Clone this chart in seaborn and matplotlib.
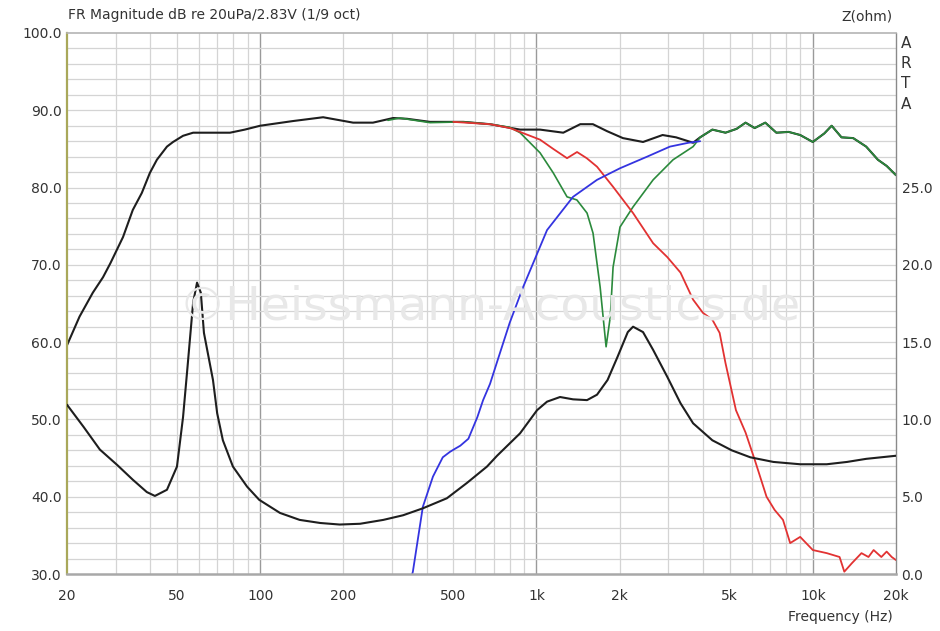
import numpy as np
import pandas as pd
import matplotlib.pyplot as plt
import seaborn as sns

sns.set_style("white")
plt.rcParams['font.family'] = ['DejaVu Sans']

# Summed response (black)
sum_freq = [20, 22.2, 24.8, 27, 28.7, 31.9, 34.6, 37.3, 39.9, 42.3, 46, 48.4, 52.6, 57.2, 77.8,
            88, 100, 131, 169, 217, 256, 303, 340, 412, 544, 679, 872, 1030, 1250, 1440, 1600,
            1800, 2055, 2430, 2860, 3200, 3688, 3910, 4330, 4830, 5300, 5710, 6160, 6730, 7380,
            8180, 9000, 10000, 11000, 11700, 12700, 14000, 15600, 17200, 18500, 20000]
sum_db = [59.6, 63.3, 66.4, 68.4, 70.2, 73.6, 77.1, 79.3, 81.9, 83.6, 85.3, 85.9, 86.7, 87.1,
          87.1, 87.5, 88.0, 88.6, 89.1, 88.4, 88.4, 89.0, 88.9, 88.5, 88.5, 88.2, 87.5, 87.5,
          87.1, 88.2, 88.2, 87.3, 86.4, 85.9, 86.8, 86.5, 85.8, 86.5, 87.5, 87.1, 87.6, 88.4,
          87.7, 88.4, 87.1, 87.2, 86.8, 85.9, 87.0, 88.0, 86.5, 86.4, 85.3, 83.6, 82.8, 81.6]

# Inverted-polarity sum (green), joins the black curve above ~3.9 kHz
inv_freq = [290, 320, 412, 544, 679, 800, 872, 1030, 1150, 1290, 1400, 1524, 1602, 1700,
            1786, 1850, 1893, 2006, 2236, 2643, 3121, 3688]
inv_db = [88.7, 89.0, 88.4, 88.5, 88.2, 87.8, 87.1, 84.5, 81.9, 78.8, 78.4, 76.7, 74.1, 67.1,
          59.4, 63.3, 69.7, 74.9, 77.5, 81.0, 83.6, 85.3]

# Woofer (red)
woof_freq = [500, 679, 802, 1030, 1150, 1290, 1402, 1520, 1656, 1893, 2236, 2643, 2975, 3320,
             3688, 4000, 4330, 4600, 4830, 5270, 5710, 6160, 6800, 7270, 7800, 8280, 9000,
             10000, 11230, 12500, 13000, 13850, 15000, 15900, 16600, 17700, 18500, 19300, 20000]
woof_db = [88.5, 88.2, 87.7, 86.2, 85.0, 83.8, 84.6, 83.8, 82.7, 80.1, 76.7, 72.8, 71.0, 69.0,
           65.5, 63.8, 62.9, 61.2, 57.3, 51.2, 48.3, 44.8, 40.0, 38.3, 37.0, 34.0, 34.8,
           33.1, 32.7, 32.2, 30.3, 31.4, 32.7, 32.2, 33.1, 32.2, 32.9, 32.2, 31.8]

# Tweeter (blue)
tw_freq = [352, 357, 388, 422, 458, 486, 507, 530, 567, 611, 641, 679, 727, 800, 894, 1092,
           1356, 1656, 2006, 2514, 3040, 3550, 3910]
tw_db = [29.5, 30.3, 38.7, 42.6, 45.1, 45.8, 46.2, 46.6, 47.5, 50.3, 52.5, 54.6, 57.9, 62.5,
         67.1, 74.5, 78.8, 81.0, 82.5, 84.0, 85.3, 85.8, 86.0]

# Impedance (ohm, right axis)
imp_freq = [20, 23, 26.3, 30.4, 34.6, 38.9, 41.6, 46, 50, 52.6, 54.6, 57.2, 59.1, 61, 62.6,
            67.5, 69.9, 73.3, 79.7, 89.7, 99.2, 118, 139, 165, 194, 230, 279, 329, 388, 474,
            561, 662, 720, 872, 1005, 1092, 1217, 1356, 1524, 1656, 1808, 1965, 2140, 2236,
            2430, 2643, 2975, 3320, 3688, 4330, 5090, 5940, 7200, 9000, 11230, 13300, 15600,
            20000]
imp_ohm = [10.95, 9.5, 8.05, 7.05, 6.1, 5.3, 5.05, 5.45, 6.95, 10.15, 13.4, 17.55, 18.85,
           18.2, 15.6, 12.55, 10.4, 8.65, 6.95, 5.65, 4.8, 3.95, 3.5, 3.3, 3.2, 3.25, 3.5, 3.8,
           4.25, 4.9, 5.9, 6.95, 7.65, 9.1, 10.6, 11.15, 11.45, 11.3, 11.25, 11.6, 12.55,
           14.05, 15.65, 16.0, 15.65, 14.5, 12.75, 11.05, 9.75, 8.65, 8.0, 7.55, 7.25, 7.1,
           7.1, 7.25, 7.45, 7.65]

x_labels = ['20', '50', '100', '200', '500', '1k', '2k', '5k', '10k', '20k']
x_ticks = [20, 50, 100, 200, 500, 1000, 2000, 5000, 10000, 20000]

sum_df = pd.DataFrame({'f': sum_freq, 'db': sum_db})
inv_df = pd.concat([pd.DataFrame({'f': inv_freq, 'db': inv_db}),
                    sum_df[sum_df['f'] >= 3910]], ignore_index=True)

fig = plt.figure(figsize=(9.4, 6.31), dpi=100)
ax = fig.add_axes([67 / 940, 57 / 631, 829 / 940, 541 / 631])
ax.set_xscale('log')
ax.set_xlim(20, 20000)
ax.set_ylim(30, 100)

# grid
for dec in [10, 100, 1000, 10000]:
    for m in range(1, 10):
        f = dec * m
        if 20 < f < 20000:
            if m == 1:
                ax.axvline(f, color='#9a9a9a', lw=1.0, zorder=0)
            else:
                ax.axvline(f, color='#d4d4d4', lw=0.9, zorder=0)
for y in range(32, 100, 2):
    ax.axhline(y, color='#d4d4d4', lw=0.9, zorder=0)

fig.text(490 / 940, 1 - 307 / 631, '©Heissmann-Acoustics.de', fontsize=34, color='#e8e8e8',
         ha='center', va='center', zorder=0.5)

sns.lineplot(data=sum_df, x='f', y='db', ax=ax, color='#1e1e1e', linewidth=1.5,
             estimator=None, sort=False)
sns.lineplot(data=inv_df, x='f', y='db', ax=ax, color='#2b8a3c', linewidth=1.2,
             estimator=None, sort=False)
sns.lineplot(x=woof_freq, y=woof_db, ax=ax, color='#e23232', linewidth=1.3,
             estimator=None, sort=False)
sns.lineplot(x=tw_freq, y=tw_db, ax=ax, color='#3434e0', linewidth=1.3,
             estimator=None, sort=False)

ax.set_xticks(x_ticks)
ax.set_xticklabels(x_labels)
ax.xaxis.set_minor_locator(plt.NullLocator())
ax.set_yticks(range(30, 101, 10))
ax.set_yticklabels([f'{v:.1f}' for v in range(30, 101, 10)])
ax.tick_params(axis='x', length=0, pad=11, labelsize=10, labelcolor='#333333')
ax.tick_params(axis='y', length=0, pad=4, labelsize=10, labelcolor='#333333')
ax.set_xlabel('')
ax.set_ylabel('')

ax2 = ax.twinx()
ax2.set_ylim(0, 35)
sns.lineplot(x=imp_freq, y=imp_ohm, ax=ax2, color='#1e1e1e', linewidth=1.5,
             estimator=None, sort=False)
ax2.set_yticks(range(0, 26, 5))
ax2.set_yticklabels([f'{v:.1f}' for v in range(0, 26, 5)])
ax2.tick_params(axis='y', length=0, pad=4, labelsize=10, labelcolor='#333333')
ax2.set_ylabel('')
ax2.set_xlim(20, 20000)

for s in ax2.spines.values():
    s.set_visible(False)
ax.spines['left'].set_color('#a9a85a')
ax.spines['left'].set_linewidth(1.6)
ax.spines['bottom'].set_color('#a8a8a8')
ax.spines['bottom'].set_linewidth(1.8)
ax.spines['top'].set_color('#b4b4b4')
ax.spines['top'].set_linewidth(1.2)
ax.spines['right'].set_color('#8a8a8a')
ax.spines['right'].set_linewidth(1.0)

fig.text(68 / 940, 1 - 15 / 631, 'FR Magnitude dB re 20uPa/2.83V (1/9 oct)', fontsize=10,
         color='#333333', va='center', ha='left')
fig.text(893 / 940, 1 - 16 / 631, 'Z(ohm)', fontsize=10, color='#333333', va='center', ha='right')
for i, ch in enumerate('ARTA'):
    fig.text(906 / 940, 1 - (43 + i * 20.5) / 631, ch, fontsize=11, color='#333333',
             va='center', ha='center')
fig.text(893 / 940, 1 - 617 / 631, 'Frequency (Hz)', fontsize=10, color='#333333',
         va='center', ha='right')

fig.savefig('out.png', dpi=100)
